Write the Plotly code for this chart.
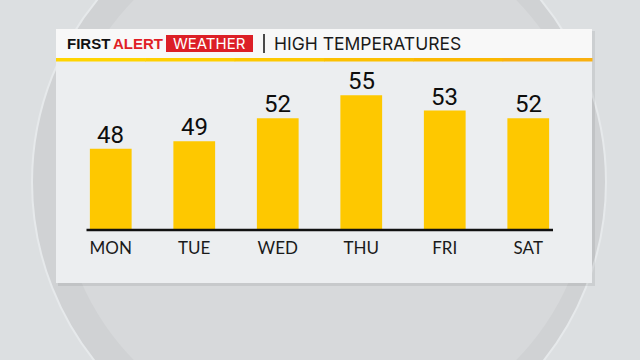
import plotly.graph_objects as go

days = ["MON", "TUE", "WED", "THU", "FRI", "SAT"]
highs = [48, 49, 52, 55, 53, 52]
header_brand = ["FIRST", "ALERT", "WEATHER"]
header_title = "HIGH TEMPERATURES"

W, H = 640, 360
L, R, T, B = 69, 70, 60, 131
PW, PH = W - L - R, H - T - B


def px(X):
    return (X - L) / PW


def py(Y):
    return (H - B - Y) / PH


def rect(x0, y0, x1, y1, fill, layer="below", line=None):
    return dict(type="rect", xref="paper", yref="paper",
                x0=px(x0), x1=px(x1), y0=py(y1), y1=py(y0),
                fillcolor=fill, line=line or dict(width=0), layer=layer)


shapes = []
# background circle
shapes.append(dict(type="circle", xref="paper", yref="paper",
                   x0=px(32), x1=px(606), y0=py(469), y1=py(-105),
                   fillcolor="#d0d2d4", line=dict(color="#e6e9eb", width=2), layer="below"))
shapes.append(dict(type="circle", xref="paper", yref="paper",
                   x0=px(60), x1=px(590), y0=py(440), y1=py(-80),
                   fillcolor="#d7d9db", line=dict(width=0), layer="below"))
# panel shadow + body
shapes.append(rect(58, 31, 595, 286, "rgba(0,0,0,0.07)"))
shapes.append(rect(56, 29, 592, 283, "#eceef0"))
shapes.append(rect(56, 29, 592, 58, "#f8f8f8"))
# yellow-orange rule under header
rule_cols = ["#ffd400", "#ffcf00", "#fdc800", "#fcc000", "#fbb800", "#f9b010"]
seg = (592 - 56) / len(rule_cols)
for i, c in enumerate(rule_cols):
    shapes.append(rect(56 + i * seg, 58, 56 + (i + 1) * seg + 0.5, 61.5, c))
# red box for WEATHER
shapes.append(rect(166, 35, 253, 52, "#dc1f26"))
# divider
shapes.append(dict(type="line", xref="paper", yref="paper",
                   x0=px(264), x1=px(264), y0=py(53), y1=py(34),
                   line=dict(color="#111", width=1.5), layer="above"))
# baseline
shapes.append(dict(type="line", xref="paper", yref="paper",
                   x0=px(86.5), x1=px(553), y0=py(230), y1=py(230),
                   line=dict(color="#111", width=2.5), layer="above"))

ann = [
    dict(text="<b>" + header_brand[0] + "</b>", x=px(64.5), y=py(44), xanchor="left", yanchor="middle",
         font=dict(family="Liberation Sans", size=15, color="#111")),
    dict(text="<b>" + header_brand[1] + "</b>", x=px(110.5), y=py(44), xanchor="left", yanchor="middle",
         font=dict(family="Liberation Sans", size=15, color="#e01e26")),
    dict(text=header_brand[2], x=px(209.5), y=py(44), xanchor="center", yanchor="middle",
         font=dict(family="Inter", size=15, color="#ffffff")),
    dict(text=header_title, x=px(272), y=py(44), xanchor="left", yanchor="middle",
         font=dict(family="Inter", size=17.5, color="#1a1a1a")),
]
for a in ann:
    a.update(xref="paper", yref="paper", showarrow=False)

# value labels, placed through the data axes
for d, v in zip(days, highs):
    ann.append(dict(x=d, y=v, xref="x", yref="y", text=str(v), showarrow=False,
                    xanchor="center", yanchor="bottom", yshift=-2,
                    font=dict(family="Roboto", size=24, color="#0d0d0d")))

fig = go.Figure(go.Bar(
    x=days, y=highs,
    marker=dict(color="#fec800", line=dict(width=0)),
    cliponaxis=False, hoverinfo="skip",
))

fig.update_layout(
    width=W, height=H,
    margin=dict(l=L, r=R, t=T, b=B, pad=0),
    paper_bgcolor="#dcdfe1", plot_bgcolor="rgba(0,0,0,0)",
    bargap=0.5, showlegend=False,
    shapes=shapes, annotations=ann,
    xaxis=dict(showgrid=False, zeroline=False, showline=False, ticks="",
               tickfont=dict(family="Lato", size=17, color="#1a1a1a"),
               ticklabelstandoff=7, fixedrange=True),
    yaxis=dict(range=[37.5, 37.5 + PH / 7.64], visible=False, fixedrange=True),
)

fig.write_html("out.html", config={"displayModeBar": False})
